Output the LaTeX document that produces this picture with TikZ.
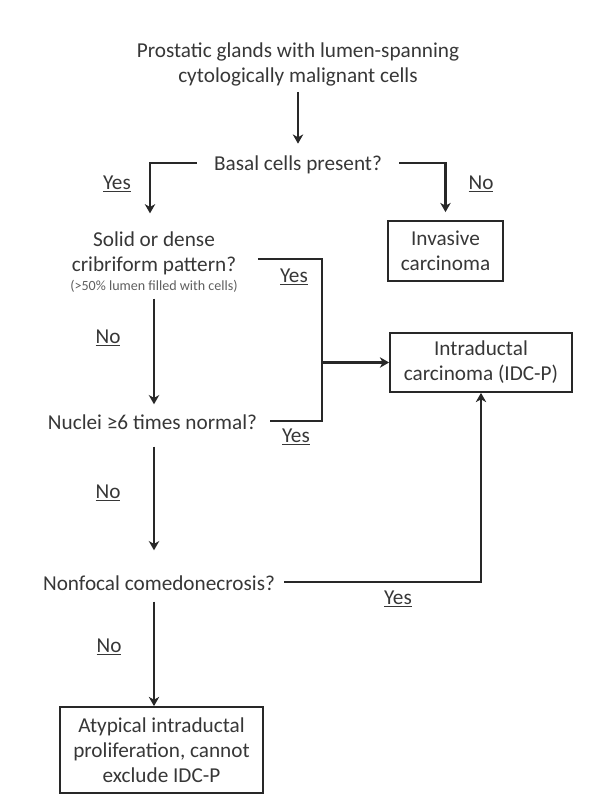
\documentclass[tikz,border=0pt]{standalone}
\usepackage{fontspec}
\setmainfont{Carlito}
\usepackage{tikz}
\usetikzlibrary{arrows, arrows.meta, positioning, calc}
\definecolor{inkGray}{RGB}{40, 40, 40}
\definecolor{textGray}{RGB}{55, 55, 55}
\definecolor{noteGray}{RGB}{95, 95, 95}
\newcommand{\mainsize}{\fontsize{15.1}{17.8}\selectfont}
\newcommand{\notesize}{\fontsize{10}{11}\selectfont}
\tikzstyle{arrow} = [line width=0.6mm, draw=inkGray, -{Stealth[length=2.3mm, width=2.6mm, inset=0.7mm]}]
\tikzstyle{line} = [line width=0.6mm, draw=inkGray]
\tikzstyle{basic} = [text centered, align=center, text=textGray, inner sep=0mm, font=\mainsize]
\tikzstyle{boxed} = [rectangle, draw=inkGray, line width=0.45mm]
\tikzstyle{answer} = [text=textGray, inner sep=0mm, anchor=base, font=\mainsize]

\begin{document}
\begin{tikzpicture}[x=0.25mm, y=-0.25mm]
\useasboundingbox (0,0) rectangle (599,800);

\node (title) [basic] at (298,64) {Prostatic glands with lumen-spanning\\cytologically malignant cells};
\node (basal) [basic] at (298,165) {Basal cells present?};
\node (invasive) [basic, boxed, minimum width=28.75mm, minimum height=15mm] at (445.5,251) {Invasive\\carcinoma};
\node (solid) [basic] at (154,262) {Solid or dense\\cribriform pattern?\\[-1.5mm]{\notesize\color{noteGray}(>50\% lumen filled with cells)}};
\node (intraductal) [basic, boxed, minimum width=45.5mm, minimum height=14.75mm] at (481,362.5) {Intraductal\\carcinoma (IDC-P)};
\node (nuclei) [basic] at (152.5,422) {Nuclei ≥6 times normal?};
\node (nonfocal) [basic] at (159,583) {Nonfocal comedonecrosis?};
\node (atypical) [basic, boxed, minimum width=50.75mm, minimum height=21.5mm] at (161.5,750) {Atypical intraductal\\proliferation, cannot\\exclude IDC-P};

% answers on the branches
\node (yes1) [answer] at (117,189) {\underline{Yes}};
\node (no1) [answer] at (481,189) {\underline{No}};
\node (yes2) [answer] at (294,282) {\underline{Yes}};
\node (no2) [answer] at (108,343) {\underline{No}};
\node (yes3) [answer] at (296,442) {\underline{Yes}};
\node (no3) [answer] at (108,498) {\underline{No}};
\node (yes4) [answer] at (398,604) {\underline{Yes}};
\node (no4) [answer] at (109,652) {\underline{No}};

\coordinate (merge) at ($(intraductal.west)+(-67,0)$);

\draw [arrow] ($(title.south)+(0,6)$) -- ($(basal.north)+(0,-12)$);
\draw [arrow] ($(basal.west)+(-17,-2)$) -| ($(solid.north)+(-4,-18)$);
\draw [arrow] ($(basal.east)+(17,-2)$) -| ($(invasive.north)+(0,-8)$);

\draw [line] ($(solid.east)+(20,-3)$) -| (merge) |- ($(nuclei.east)+(13,-1)$);
\draw [arrow] (merge) -- (intraductal.west);
\draw [arrow] ($(solid.south)+(0,6)$) -- ($(solid.south |- nuclei.north)+(0,-10)$);

\draw [arrow] ($(solid.south |- nuclei.south)+(0,17)$) -- ($(solid.south |- nonfocal.north)+(0,-25)$);
\draw [arrow] ($(nonfocal.east)+(9,-1)$) -| (intraductal.south);
\draw [arrow] ($(solid.south |- nonfocal.south)+(0,11)$) -- (solid.south |- atypical.north);

\end{tikzpicture}
\end{document}
